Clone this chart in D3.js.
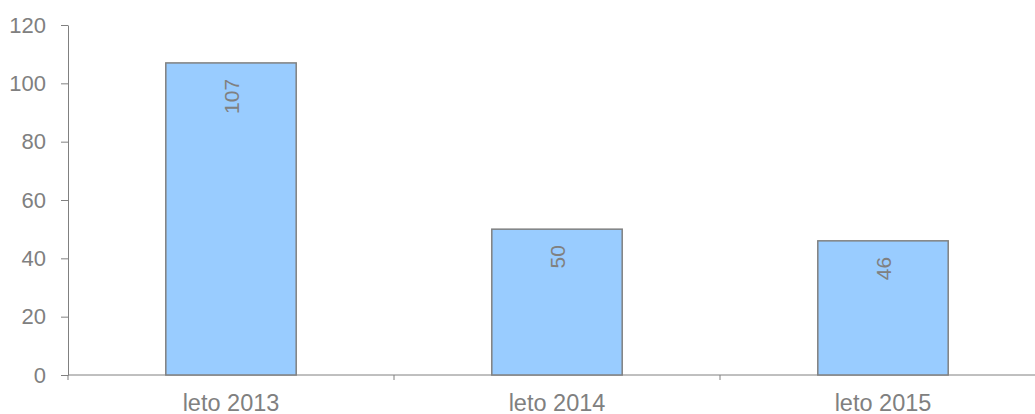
<!DOCTYPE html>
<html><head><meta charset="utf-8">
<script src="https://cdn.jsdelivr.net/npm/d3@7"></script>
<style>html,body{margin:0;padding:0;background:#fff}</style>
</head><body>
<script>
const categories = ["leto 2013", "leto 2014", "leto 2015"];
const values = [107, 50, 46];
const yTicks = [0, 20, 40, 60, 80, 100, 120];

(function () {
const W = 1035, H = 414;
const mLeft = 68, mRight = 1046, mTop = 25, mBottom = 375;
const grey = "#808080";
const font = "Liberation Sans, Arial, Helvetica, sans-serif";

const svg = d3.select("body").append("svg").attr("width", W).attr("height", H)
  .style("font-family", font);

const x = d3.scaleBand().domain(categories).range([mLeft, mRight]).padding(0);
const y = d3.scaleLinear().domain([0, 120]).range([mBottom, mTop]);

// y axis
const ya = svg.append("g").attr("transform", `translate(${mLeft},0)`)
  .call(d3.axisLeft(y).tickValues(yTicks).tickSize(7).tickPadding(15).tickSizeOuter(0));
ya.select(".domain").attr("stroke", grey).attr("stroke-width", 1);
ya.selectAll(".tick line").attr("stroke", grey);
ya.selectAll(".tick text").attr("fill", grey).style("font-size", "22px").style("font-family", font);

// x axis line
svg.append("line").attr("x1", mLeft).attr("x2", W).attr("y1", mBottom).attr("y2", mBottom)
  .attr("stroke", grey).attr("stroke-width", 1);
// x ticks at band boundaries
const bounds = categories.map(c => x(c));
svg.selectAll(".xt").data(bounds).enter().append("line")
  .attr("x1", d => d).attr("x2", d => d).attr("y1", mBottom).attr("y2", mBottom + 5)
  .attr("stroke", grey);
svg.selectAll(".xl").data(categories).enter().append("text")
  .attr("x", d => x(d) + x.bandwidth() / 2).attr("y", 411)
  .attr("text-anchor", "middle").attr("fill", grey)
  .style("font-size", "23.5px").text(d => d);

// bars
const bw = x.bandwidth() * 0.4;
svg.selectAll(".bar").data(values).enter().append("rect")
  .attr("x", (d, i) => x(categories[i]) + (x.bandwidth() - bw) / 2)
  .attr("y", d => y(d))
  .attr("width", bw)
  .attr("height", d => mBottom - y(d))
  .attr("fill", "#99ccff").attr("stroke", grey).attr("stroke-width", 1.5);

// value labels
svg.selectAll(".vl").data(values).enter().append("text")
  .attr("transform", (d, i) => `translate(${x(categories[i]) + x.bandwidth() / 2 + 7.5},${y(d) + 16}) rotate(-90)`)
  .attr("text-anchor", "end").attr("fill", grey)
  .style("font-size", "21px").text(d => d);
})();
</script>
</body></html>
